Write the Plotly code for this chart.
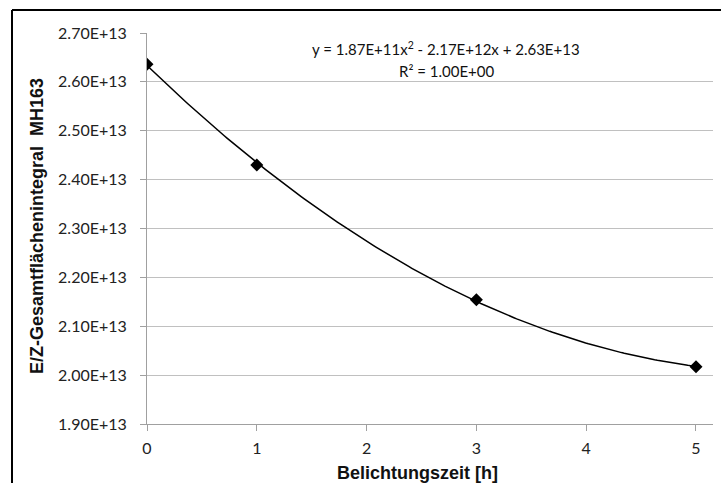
import numpy as np
import plotly.graph_objects as go

# Data
time_h = [0, 1, 3, 5]
integral = [2.636e13, 2.430e13, 2.154e13, 2.017e13]
y_ticks = [1.9e13, 2.0e13, 2.1e13, 2.2e13, 2.3e13, 2.4e13, 2.5e13, 2.6e13, 2.7e13]
y_tick_labels = ["1.90E+13", "2.00E+13", "2.10E+13", "2.20E+13", "2.30E+13",
                 "2.40E+13", "2.50E+13", "2.60E+13", "2.70E+13"]
x_ticks = [0, 1, 2, 3, 4, 5]
eq_text = "y = 1.87E+11x<sup>2</sup> - 2.17E+12x + 2.63E+13"
r2_text = "R² = 1.00E+00"
x_title = "<b>Belichtungszeit [h]</b>"
y_title = "<b>E/Z-Gesamtflächenintegral  MH163</b>"

# polynomial trendline (order 2) fitted to the data
coef = np.polyfit(time_h, integral, 2)
xf = np.linspace(min(time_h), max(time_h), 200)
yf = np.polyval(coef, xf)

fig = go.Figure()
fig.add_trace(go.Scatter(x=xf, y=yf, mode="lines",
                         line=dict(color="black", width=1.5), hoverinfo="skip"))
fig.add_trace(go.Scatter(x=time_h, y=integral, mode="markers",
                         marker=dict(symbol="diamond", size=10, color="black")))

W, H = 724, 483
L, R, T, B = 147, 11, 33, 59
pw, ph = W - L - R, H - T - B

def px(x):
    return (x - L) / pw

def py(y):
    return (H - B - y) / ph

title_font = dict(family="Liberation Sans, Arial", size=18, color="#111")

fig.update_layout(
    width=W, height=H,
    margin=dict(l=L, r=R, t=T, b=B),
    paper_bgcolor="white", plot_bgcolor="white",
    showlegend=False,
    font=dict(family="Lato, Open Sans, sans-serif", color="#222", size=16),
    xaxis=dict(range=[0, 5.155], tickvals=x_ticks, ticks="outside", ticklen=6,
               tickcolor="#a0a0a0", showline=True, linecolor="#a0a0a0", linewidth=1,
               showgrid=False, zeroline=False, tickfont=dict(size=16),
               ticklabelstandoff=4),
    yaxis=dict(range=[1.9e13, 2.7e13], tickvals=y_ticks, ticktext=y_tick_labels,
               ticks="outside", ticklen=6, tickcolor="#a0a0a0",
               showline=True, linecolor="#a0a0a0", linewidth=1,
               showgrid=True, gridcolor="#c0c0c0", gridwidth=1, zeroline=False,
               tickfont=dict(size=16), ticklabelstandoff=10),
    annotations=[
        dict(text=eq_text, x=px(446), y=py(48), xref="paper", yref="paper",
             showarrow=False, font=dict(size=15, color="#111"), xanchor="center", yanchor="middle"),
        dict(text=r2_text, x=px(446), y=py(71), xref="paper", yref="paper",
             showarrow=False, font=dict(size=15, color="#111"), xanchor="center", yanchor="middle"),
        dict(text=x_title, x=px(417), y=py(473), xref="paper", yref="paper",
             showarrow=False, font=title_font, xanchor="center", yanchor="middle"),
        dict(text=y_title, x=px(37), y=py(226), xref="paper", yref="paper", textangle=-90,
             showarrow=False, font=title_font, xanchor="center", yanchor="middle"),
    ],
    shapes=[
        dict(type="line", xref="paper", yref="paper", x0=px(12), x1=px(12), y0=py(10), y1=py(490),
             line=dict(color="black", width=2)),
        dict(type="line", xref="paper", yref="paper", x0=px(12), x1=px(721), y0=py(10), y1=py(10),
             line=dict(color="black", width=2)),
    ],
)

fig.write_html("out.html")
